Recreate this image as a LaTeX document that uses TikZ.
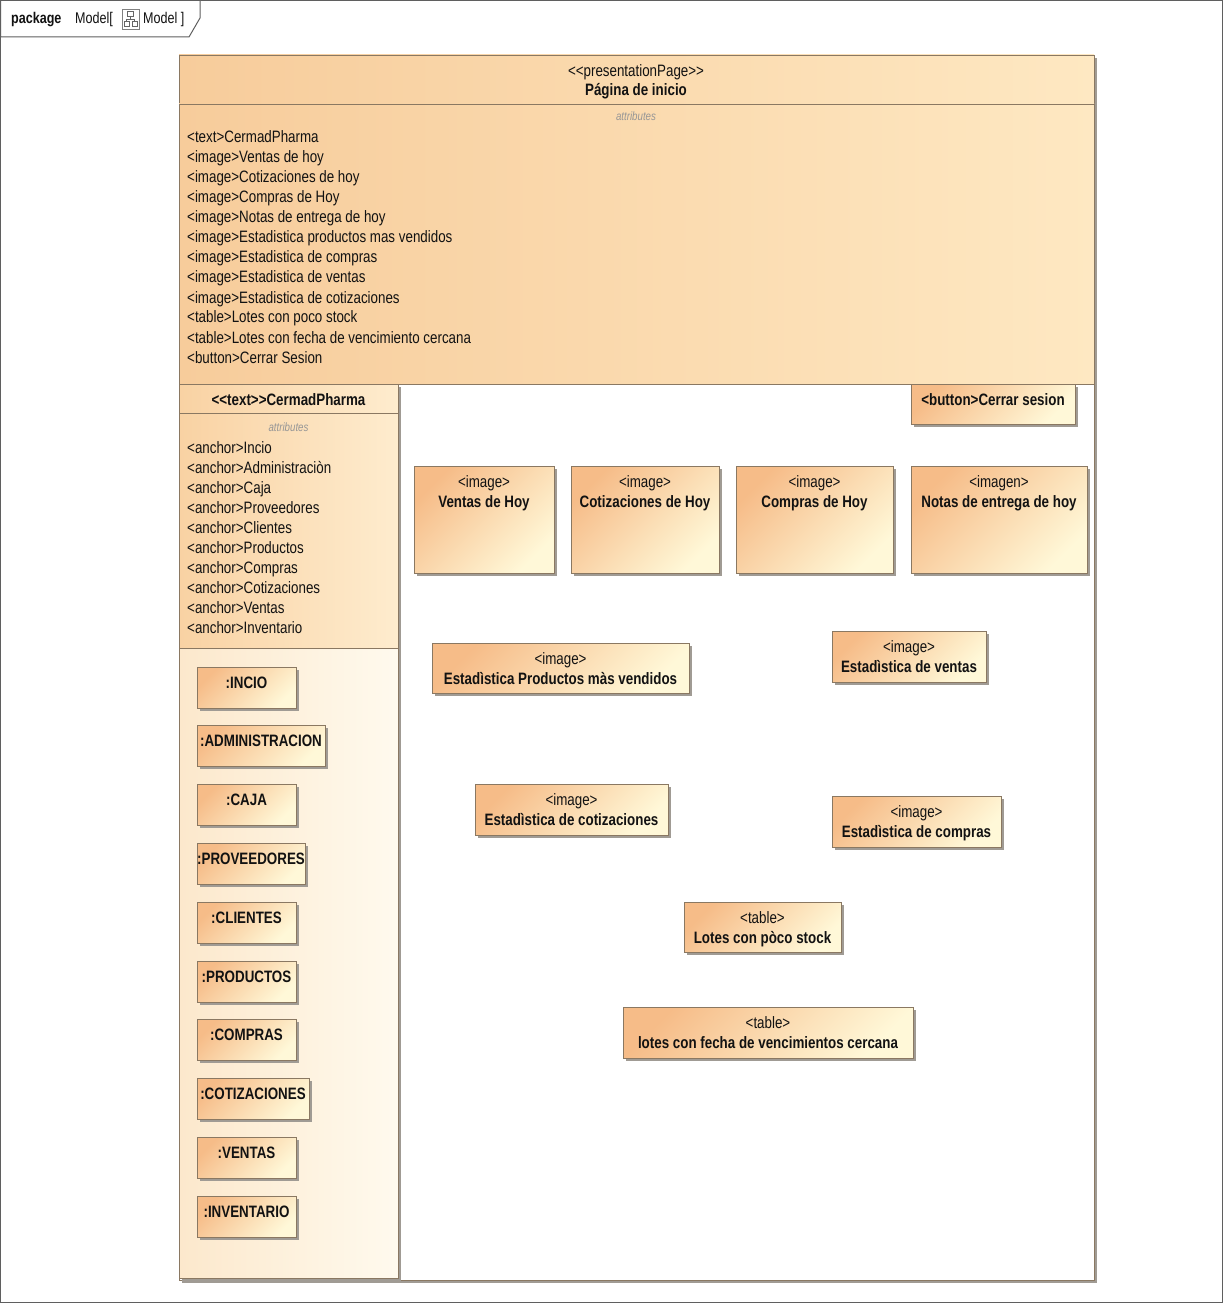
\documentclass[tikz,border=0pt]{standalone}
\usepackage{fontspec}
\setmainfont{Liberation Sans}[FakeStretch=0.81]
\usetikzlibrary{shadows}

\definecolor{frameline}{RGB}{95,95,95}
\definecolor{boxline}{RGB}{138,120,98}
\definecolor{shadowgray}{RGB}{160,155,148}
\definecolor{headL}{RGB}{247,204,155}
\definecolor{headR}{RGB}{254,232,194}
\definecolor{colL}{RGB}{249,210,163}
\definecolor{colR}{RGB}{254,236,206}
\definecolor{partL}{RGB}{252,232,204}
\definecolor{partR}{RGB}{255,250,238}
\definecolor{wOrange}{RGB}{246,188,136}
\definecolor{wCream}{RGB}{255,248,216}
\definecolor{ink}{RGB}{18,18,18}
\definecolor{metagray}{RGB}{150,150,150}

\newcommand{\plainfont}{\fontsize{16.5}{20}\selectfont}
\newcommand{\boldfont}{\fontsize{16.5}{20}\selectfont\bfseries}
\newcommand{\metafont}{\fontsize{12}{14}\selectfont\itshape}
\newcommand{\tabfont}{\fontsize{15.5}{18}\selectfont}

\tikzset{
  shadowed/.style={general shadow={fill=shadowgray, shadow xshift=3pt, shadow yshift=-3pt}},
  compart/.style={draw=boxline, line width=0.9pt, anchor=north west, inner sep=0pt, outer sep=0pt},
  widget/.style={draw=boxline, line width=0.9pt, anchor=north west, inner sep=0pt, outer sep=0pt,
    top color=wOrange, bottom color=wCream, shading angle=45, shadowed},
  attrline/.style={anchor=base west, inner sep=0pt, text=ink, font=\plainfont},
  metatext/.style={anchor=base, inner sep=0pt, text=metagray, font=\metafont},
  stereo/.style={anchor=base, inner sep=0pt, text=ink, font=\plainfont},
  nametext/.style={anchor=base, inner sep=0pt, text=ink, font=\boldfont},
}

% a UI element with a stereotype line and a bold name line
\newcommand{\uiwidget}[7]{%
  \node[widget, minimum width=#4pt, minimum height=#5pt] (#1) at (#2,#3) {};
  \node[stereo] (#1-s) at ([yshift=-21pt]#1.north) {#6};
  \node[nametext] (#1-n) at ([yshift=-41pt]#1.north) {#7};
}
% a part box with a single bold label
\newcommand{\partbox}[5]{%
  \node[widget, minimum width=#4pt, minimum height=41pt] (#1) at (#2,#3) {};
  \node[nametext] (#1-n) at ([yshift=-21pt]#1.north) {#5};
}

\begin{document}
\begin{tikzpicture}[x=1pt, y=-1pt]
\useasboundingbox (0,0) rectangle (1225,1305);

% diagram frame and its name tab
\draw[frameline, line width=1pt] (0.5,0.5) rectangle (1222.5,1302);
\draw[frameline, line width=1pt, fill=white] (0.5,0.5) -- (200,0.5) -- (200,18) -- (189,37) -- (0.5,37) -- cycle;
\node[anchor=base west, inner sep=0pt, text=ink, font=\tabfont\bfseries] (tabkw) at (11,24) {package};
\node[anchor=base west, inner sep=0pt, text=ink, font=\tabfont] (tabname) at (75,24) {Model[};
\draw[gray, line width=0.8pt, fill=white] (122,9) rectangle (139,29);
\draw[gray!80!black, line width=0.7pt] (127.5,11.5) rectangle (133.5,16.5)
  (130.5,16.5) -- (130.5,19) (126.5,19) -- (134.5,19) (126.5,19) -- (126.5,21) (134.5,19) -- (134.5,21)
  (124,21) rectangle (129,26) (132,21) rectangle (137,26);
\node[anchor=base west, inner sep=0pt, text=ink, font=\tabfont] (tabname2) at (143,24) {Model ]};

% presentation page class
\node[compart, fill=white, shadowed, minimum width=915pt, minimum height=1225pt] (page) at (179,55) {};
\node[compart, left color=headL, right color=headR, minimum width=915pt, minimum height=49pt] (pagehead) at (179,55) {};
\node[compart, left color=headL, right color=headR, minimum width=915pt, minimum height=280pt] (pageattrs) at (179,104) {};
\node[stereo] (pagest) at (636,76.5) {<{}<presentationPage>{}>};
\node[nametext] (pagetitle) at (636,95.5) {Página de inicio};
\node[metatext] (pagemeta) at (636,121) {attributes};
\foreach \t [count=\i from 0] in {<text>CermadPharma, <image>Ventas de hoy, <image>Cotizaciones de hoy,
  <image>Compras de Hoy, <image>Notas de entrega de hoy, <image>Estadistica productos mas vendidos,
  <image>Estadistica de compras, <image>Estadistica de ventas, <image>Estadistica de cotizaciones,
  <table>Lotes con poco stock, <table>Lotes con fecha de vencimiento cercana, <button>Cerrar Sesion}
  \node[attrline] (pa\i) at (187,143+20*\i) {\t};

% navigation text part
\node[compart, left color=partL, right color=partR, shadowed, minimum width=219pt, minimum height=894pt] (cerm) at (179,384) {};
\node[compart, left color=colL, right color=colR, minimum width=219pt, minimum height=29pt] (cermhead) at (179,384) {};
\node[compart, left color=colL, right color=colR, minimum width=219pt, minimum height=235pt] (cermattrs) at (179,413) {};
\node[nametext] (cermtitle) at (288.5,405) {<{}<text>{}>CermadPharma};
\node[metatext] (cermmeta) at (288.5,431) {attributes};
\foreach \t [count=\i from 0] in {<anchor>Incio, <anchor>Administraciòn, <anchor>Caja, <anchor>Proveedores,
  <anchor>Clientes, <anchor>Productos, <anchor>Compras, <anchor>Cotizaciones, <anchor>Ventas, <anchor>Inventario}
  \node[attrline] (ca\i) at (187,453+20*\i) {\t};

\partbox{p1}{197}{667}{99}{:INCIO}
\partbox{p2}{197}{725}{128}{:ADMINISTRACION}
\partbox{p3}{197}{784}{99}{:CAJA}
\partbox{p4}{197}{843}{108}{:PROVEEDORES}
\partbox{p5}{197}{902}{99}{:CLIENTES}
\partbox{p6}{197}{961}{99}{:PRODUCTOS}
\partbox{p7}{197}{1019}{99}{:COMPRAS}
\partbox{p8}{197}{1078}{112}{:COTIZACIONES}
\partbox{p9}{197}{1137}{99}{:VENTAS}
\partbox{p10}{197}{1196}{99}{:INVENTARIO}

% page content
\node[widget, minimum width=164pt, minimum height=40pt] (btn) at (911,384) {};
\node[nametext] (btn-n) at ([yshift=-21pt]btn.north) {<button>Cerrar sesion};

\uiwidget{vh}{414}{466}{140}{107}{<image>}{Ventas de Hoy}
\uiwidget{cth}{571}{466}{148}{107}{<image>}{Cotizaciones de Hoy}
\uiwidget{cph}{736}{466}{157}{107}{<image>}{Compras de Hoy}
\uiwidget{neh}{911}{466}{176}{107}{<imagen>}{Notas de entrega de hoy}
\uiwidget{epv}{432}{643}{257}{50}{<image>}{Estadìstica Productos màs vendidos}
\uiwidget{eve}{832}{631}{154}{51}{<image>}{Estadìstica de ventas}
\uiwidget{eco}{475}{784}{193}{51}{<image>}{Estadìstica de cotizaciones}
\uiwidget{ecm}{832}{796}{169}{51}{<image>}{Estadìstica de compras}
\uiwidget{lps}{684}{902}{157}{50}{<table>}{Lotes con pòco stock}
\uiwidget{lfv}{623}{1007}{290}{51}{<table>}{lotes con fecha de vencimientos cercana}
\end{tikzpicture}
\end{document}
